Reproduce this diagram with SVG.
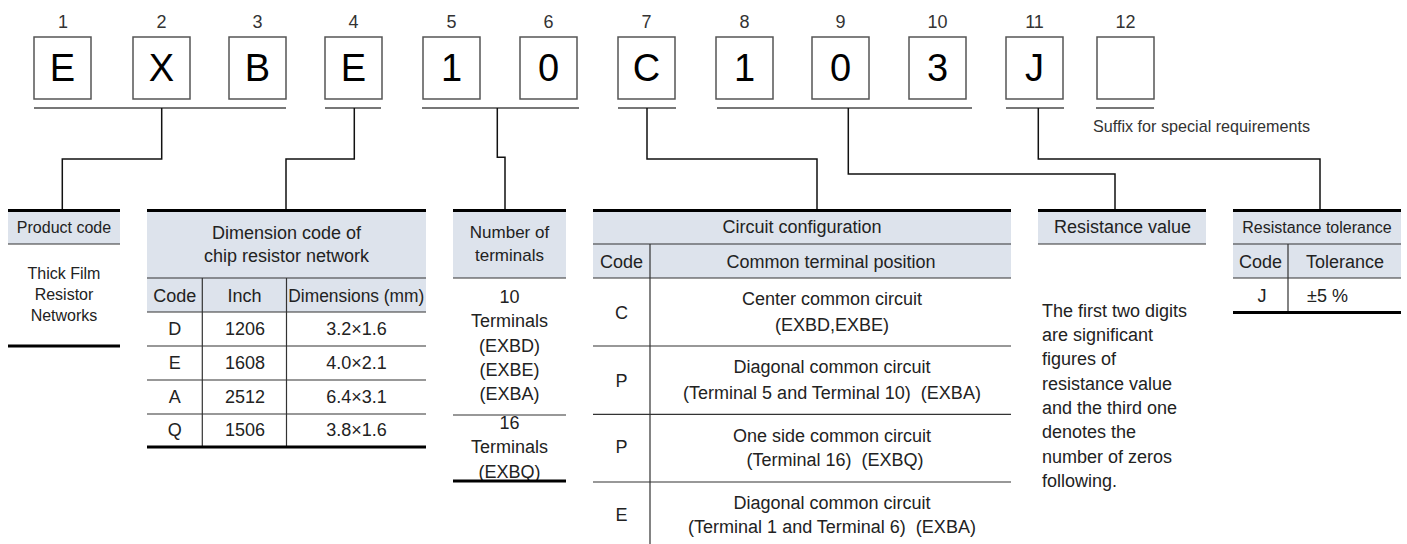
<svg xmlns="http://www.w3.org/2000/svg" width="1407" height="544" viewBox="0 0 1407 544">
<style>
text{font-family:"Liberation Sans",Arial,Helvetica,sans-serif;fill:#222}
.num{font-size:18px;text-anchor:middle;fill:#333}
.big{font-size:38px;text-anchor:middle;fill:#000}
.box{fill:#fff;stroke:#555;stroke-width:1.5}
.ul{stroke:#777;stroke-width:2;fill:none}
.con{stroke:#111;stroke-width:1.5;fill:none}
.thick{fill:#000}
.hd{fill:#dde3ec}
.thin{stroke:#333;stroke-width:1.2;fill:none}
.t16{font-size:16px;text-anchor:middle}
.t17{font-size:17px;text-anchor:middle}
.t18{font-size:18px;text-anchor:middle}
.l18{font-size:18px}
.pre{white-space:pre}
</style>

<!-- code boxes -->
<g id="box1"><text class="num" x="63" y="28">1</text><rect class="box" x="34" y="37" width="57" height="62"/><text class="big" x="62.5" y="81">E</text></g>
<g id="box2"><text class="num" x="161.5" y="28">2</text><rect class="box" x="133" y="37" width="57" height="62"/><text class="big" x="161.5" y="81">X</text></g>
<g id="box3"><text class="num" x="257.5" y="28">3</text><rect class="box" x="229" y="37" width="57" height="62"/><text class="big" x="257.5" y="81">B</text></g>
<g id="box4"><text class="num" x="353.5" y="28">4</text><rect class="box" x="325" y="37" width="57" height="62"/><text class="big" x="353.5" y="81">E</text></g>
<g id="box5"><text class="num" x="451.5" y="28">5</text><rect class="box" x="423" y="37" width="57" height="62"/><text class="big" x="451.5" y="81">1</text></g>
<g id="box6"><text class="num" x="548.5" y="28">6</text><rect class="box" x="520" y="37" width="57" height="62"/><text class="big" x="548.5" y="81">0</text></g>
<g id="box7"><text class="num" x="646.5" y="28">7</text><rect class="box" x="618" y="37" width="57" height="62"/><text class="big" x="646.5" y="81">C</text></g>
<g id="box8"><text class="num" x="744.5" y="28">8</text><rect class="box" x="716" y="37" width="57" height="62"/><text class="big" x="744.5" y="81">1</text></g>
<g id="box9"><text class="num" x="840.5" y="28">9</text><rect class="box" x="812" y="37" width="57" height="62"/><text class="big" x="840.5" y="81">0</text></g>
<g id="box10"><text class="num" x="937.5" y="28">10</text><rect class="box" x="909" y="37" width="57" height="62"/><text class="big" x="937.5" y="81">3</text></g>
<g id="box11"><text class="num" x="1034.5" y="28">11</text><rect class="box" x="1006" y="37" width="57" height="62"/><text class="big" x="1034.5" y="81">J</text></g>
<g id="box12"><text class="num" x="1125.5" y="28">12</text><rect class="box" x="1097" y="37" width="57" height="62"/></g>

<!-- connectors -->
<g id="connectors">
<path class="ul" d="M34,108H286M325,108H381M422,108H579M618,108H676M717,108H972M1006,108H1064M1096,108H1154"/>
<path class="con" d="M161.7,108V159H62.3V209"/>
<path class="con" d="M354.3,108V159H286V209"/>
<path class="con" d="M497.3,108V157.3H505V209"/>
<path class="con" d="M647,108V159H817V209"/>
<path class="con" d="M848.3,108V174H1115V209"/>
<path class="con" d="M1038.3,108V159H1320V209"/>
</g>

<g id="suffix-note"><text x="1093" y="131.5" font-size="17" textLength="217" lengthAdjust="spacingAndGlyphs" style="fill:#333">Suffix for special requirements</text></g>

<!-- Product code -->
<g id="product-code">
<rect class="hd" x="8" y="212" width="112" height="32"/>
<rect class="thick" x="8" y="209" width="112" height="3"/>
<line class="thin" x1="8" y1="244" x2="120" y2="244"/>
<text class="t16" x="64" y="232.5">Product code</text>
<text class="t16" x="64" y="278.5">Thick Film</text>
<text class="t16" x="64" y="300">Resistor</text>
<text class="t16" x="64" y="321">Networks</text>
<rect class="thick" x="8" y="344.5" width="112" height="3"/>
</g>

<!-- Dimension code -->
<g id="dimension-code">
<rect class="hd" x="147" y="212" width="279" height="100"/>
<rect class="thick" x="147" y="209" width="279" height="3"/>
<text class="t18" x="286.5" y="238.8">Dimension code of</text>
<text class="t18" x="286.5" y="261.5">chip resistor network</text>
<path class="thin" d="M147,278H426M147,312H426M147,346H426M147,380H426M147,414H426M202.3,278V447M286.5,278V447"/>
<text class="t18" x="174.7" y="301.5">Code</text>
<text class="t18" x="244.4" y="301.5">Inch</text>
<text class="t18" x="356.3" y="301.5" textLength="136" lengthAdjust="spacingAndGlyphs">Dimensions (mm)</text>
<text class="t18" x="174.7" y="335">D</text><text class="t18" x="245" y="335">1206</text><text class="t18" x="356.5" y="335">3.2×1.6</text>
<text class="t18" x="174.7" y="369">E</text><text class="t18" x="245" y="369">1608</text><text class="t18" x="356.5" y="369">4.0×2.1</text>
<text class="t18" x="174.7" y="402.7">A</text><text class="t18" x="245" y="402.7">2512</text><text class="t18" x="356.5" y="402.7">6.4×3.1</text>
<text class="t18" x="174.7" y="436">Q</text><text class="t18" x="245" y="436">1506</text><text class="t18" x="356.5" y="436">3.8×1.6</text>
<rect class="thick" x="147" y="445.5" width="279" height="3"/>
</g>

<!-- Number of terminals -->
<g id="terminals">
<rect class="hd" x="453" y="212" width="113" height="66"/>
<rect class="thick" x="453" y="209" width="113" height="3"/>
<text class="t17" x="509.5" y="238.3">Number of</text>
<text class="t17" x="509.5" y="261">terminals</text>
<path class="thin" d="M453,278H566M453,415H566"/>
<text class="t18" x="509.5" y="303.2">10</text>
<text class="t18" x="509.5" y="327.2">Terminals</text>
<text class="t18" x="509.5" y="352">(EXBD)</text>
<text class="t18" x="509.5" y="376">(EXBE)</text>
<text class="t18" x="509.5" y="399.5">(EXBA)</text>
<text class="t18" x="509.5" y="429">16</text>
<text class="t18" x="509.5" y="453">Terminals</text>
<text class="t18" x="509.5" y="478">(EXBQ)</text>
<rect class="thick" x="453" y="479.5" width="113" height="3"/>
</g>

<!-- Circuit configuration -->
<g id="circuit-configuration">
<rect class="hd" x="593" y="212" width="418" height="66"/>
<rect class="thick" x="593" y="209" width="418" height="3"/>
<text class="t18" x="802" y="233">Circuit configuration</text>
<path class="thin" d="M593,244H1011M593,278H1011M593,346H1011M593,414.3H1011M593,482H1011M650,244V544"/>
<text class="t18" x="621.5" y="267.5">Code</text>
<text class="t18" x="831" y="267.5">Common terminal position</text>
<text class="t18" x="621.5" y="319">C</text>
<text class="t18" x="832" y="305">Center common circuit</text>
<text class="t18" x="832" y="330.5">(EXBD,EXBE)</text>
<text class="t18" x="621.5" y="386.5">P</text>
<text class="t18" x="832" y="373">Diagonal common circuit</text>
<text class="t18 pre" x="832" y="399">(Terminal 5 and Terminal 10)  (EXBA)</text>
<text class="t18" x="621.5" y="453">P</text>
<text class="t18" x="832" y="441.5">One side common circuit</text>
<text class="t18 pre" x="835" y="466">(Terminal 16)  (EXBQ)</text>
<text class="t18" x="621.5" y="521">E</text>
<text class="t18" x="832" y="509">Diagonal common circuit</text>
<text class="t18 pre" x="832" y="533">(Terminal 1 and Terminal 6)  (EXBA)</text>
</g>

<!-- Resistance value -->
<g id="resistance-value">
<rect class="hd" x="1038" y="212" width="168" height="32"/>
<rect class="thick" x="1038" y="209" width="168" height="3"/>
<line class="thin" x1="1038" y1="244" x2="1206" y2="244"/>
<text class="t18" x="1122.5" y="233">Resistance value</text>
<text class="l18" x="1042" y="316.7">The first two digits</text>
<text class="l18" x="1042" y="341">are significant</text>
<text class="l18" x="1042" y="365.3">figures of</text>
<text class="l18" x="1042" y="389.6">resistance value</text>
<text class="l18" x="1042" y="413.9">and the third one</text>
<text class="l18" x="1042" y="438.2">denotes the</text>
<text class="l18" x="1042" y="462.5">number of zeros</text>
<text class="l18" x="1042" y="486.8">following.</text>
</g>

<!-- Resistance tolerance -->
<g id="resistance-tolerance">
<rect class="hd" x="1233" y="212" width="168" height="66"/>
<rect class="thick" x="1233" y="209" width="168" height="3"/>
<text class="t16" x="1317" y="232.5">Resistance tolerance</text>
<path class="thin" d="M1233,244H1401M1233,278H1401M1288,244V312"/>
<text class="t18" x="1260.5" y="267.5">Code</text>
<text class="t18" x="1345" y="267.5">Tolerance</text>
<text class="t18" x="1262" y="302">J</text>
<text class="l18" x="1307" y="302">±5 %</text>
<rect class="thick" x="1233" y="311" width="168" height="3"/>
</g>
</svg>
